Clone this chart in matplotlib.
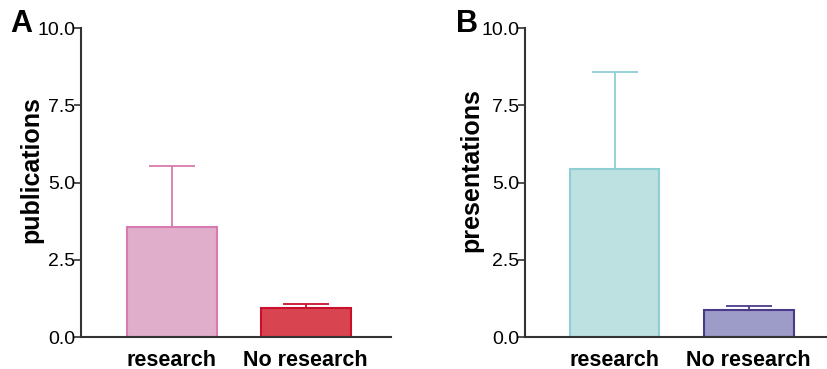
import matplotlib
matplotlib.use("Agg")
import matplotlib.pyplot as plt

categories = ["research", "No research"]
pub_means = [3.56, 0.94]
pub_err = [1.98, 0.13]
pres_means = [5.44, 0.87]
pres_err = [3.15, 0.14]
yticks = [0.0, 2.5, 5.0, 7.5, 10.0]

fig = plt.figure(figsize=(8.28, 3.69), dpi=100)
plt.rcParams['font.family'] = ['Liberation Sans', 'DejaVu Sans']

def panel(rect, means, errs, fills, edges, ylabel, letter, xlim, letter_x, label_x):
    ax = fig.add_axes(rect)
    x = list(range(len(categories)))
    for i in x:
        ax.bar(i, means[i], width=0.67, color=fills[i], edgecolor=edges[i], linewidth=1.5, zorder=2)
        ax.errorbar(i, means[i], yerr=[[0], [errs[i]]], ecolor=edges[i], elinewidth=1.3,
                    capsize=16.5, capthick=1.3, fmt='none', zorder=1)
    ax.set_xlim(*xlim)
    ax.set_ylim(0, 10)
    ax.set_yticks(yticks)
    ax.set_yticklabels([f"{v:.1f}" for v in yticks], fontsize=14)
    ax.set_xticks(x)
    ax.set_xticklabels(categories, fontsize=15.5, fontweight='bold')
    ax.tick_params(axis='x', length=0, pad=9)
    ax.tick_params(axis='y', length=5, width=1.2, color='#333333', pad=-1)
    for s in ['top', 'right']:
        ax.spines[s].set_visible(False)
    for s in ['left', 'bottom']:
        ax.spines[s].set_color('#333333')
        ax.spines[s].set_linewidth(1.5)
    ax.set_ylabel(ylabel, fontsize=18, fontweight='bold')
    ax.yaxis.set_label_coords(label_x, 0.54, transform=fig.transFigure)
    fig.text(letter_x, 0.935, letter, fontsize=22, fontweight='bold', ha='left', va='center')
    return ax

panel([0.0978, 0.0867, 0.375, 0.837], pub_means, pub_err,
      ['#E0AECB', '#D84550'], ['#D87BAE', '#C8102E'], 'publications', 'A', (-0.679, 1.64), 0.012, 0.052)
panel([0.634, 0.0867, 0.365, 0.837], pres_means, pres_err,
      ['#BDE0E1', '#9D9BC8'], ['#8FCFD3', '#4B3A8C'], 'presentations', 'B', (-0.668, 1.586), 0.551, 0.584)

fig.savefig("out.png", dpi=100)
